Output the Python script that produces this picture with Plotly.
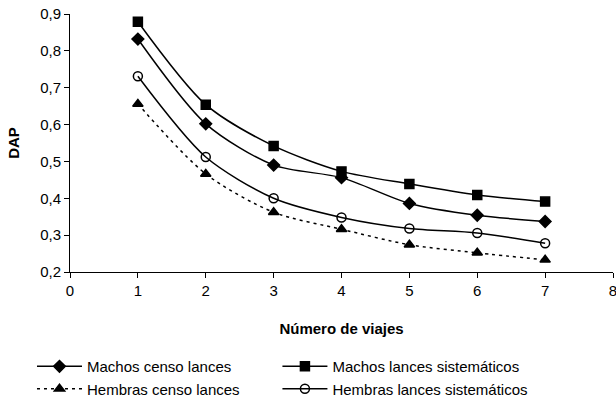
import plotly.graph_objects as go

viajes = [1, 2, 3, 4, 5, 6, 7]

machos_censo = [0.832, 0.602, 0.490, 0.456, 0.386, 0.354, 0.337]
machos_sistematicos = [0.879, 0.654, 0.542, 0.473, 0.439, 0.409, 0.391]
hembras_censo = [0.656, 0.466, 0.362, 0.316, 0.274, 0.252, 0.233]
hembras_sistematicos = [0.731, 0.512, 0.400, 0.348, 0.318, 0.306, 0.278]

FONT = "Liberation Sans, Arial, sans-serif"

# name, values, marker, dash, legend column
series = [
    ("Machos censo lances", machos_censo, "diamond", "solid", "legend"),
    ("Machos lances sistemáticos", machos_sistematicos, "square", "solid", "legend2"),
    ("Hembras censo lances", hembras_censo, "triangle-up", "3px,4px", "legend"),
    ("Hembras lances sistemáticos", hembras_sistematicos, "circle-open", "solid", "legend2"),
]

fig = go.Figure()
for name, values, symbol, dash, legend in series:
    fig.add_trace(go.Scatter(
        x=viajes,
        y=values,
        name=name,
        legend=legend,
        mode="lines+markers",
        line=dict(color="black", width=1.5, dash=dash, shape="spline", smoothing=0.8),
        marker=dict(symbol=symbol, size=9, color="black",
                    line=dict(color="black", width=1.5)),
    ))

axis_common = dict(
    showline=True,
    linecolor="black",
    linewidth=1,
    ticks="outside",
    ticklen=5,
    tickcolor="black",
    showgrid=False,
    zeroline=False,
    automargin=False,
    ticklabeloverflow="allow",
    tickfont=dict(family=FONT, size=15, color="black"),
)

fig.update_xaxes(
    range=[0, 8], dtick=1,
    title=dict(text="<b>Número de viajes</b>", font=dict(family=FONT, size=15, color="black"),
               standoff=25),
    **axis_common,
)
fig.update_yaxes(
    range=[0.2, 0.9], dtick=0.1, tickformat=".1f",
    title=dict(text="<b>DAP</b>", font=dict(family=FONT, size=15, color="black"),
               standoff=16),
    **axis_common,
)

legend_common = dict(
    orientation="v",
    xref="paper", yref="container",
    y=0.142, xanchor="left", yanchor="top",
    itemwidth=45,
    font=dict(family=FONT, size=15, color="black"),
    tracegroupgap=0,
)

fig.update_layout(
    width=616,
    height=408,
    separators=", ",
    plot_bgcolor="white",
    paper_bgcolor="white",
    font=dict(family=FONT, size=15, color="black"),
    margin=dict(l=70, r=3, t=14, b=136),
    legend=dict(x=-0.07, **legend_common),
    legend2=dict(x=0.382, **legend_common),
)

fig.write_html(
    "out.html",
    config={"displayModeBar": False},
    post_script="document.body.style.margin='0px';",
)
